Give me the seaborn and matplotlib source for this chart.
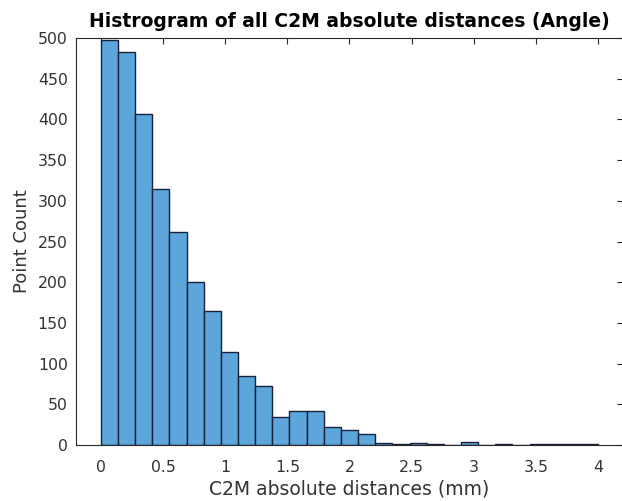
import numpy as np
import pandas as pd
import matplotlib
matplotlib.use("Agg")
import matplotlib.pyplot as plt
import seaborn as sns

# Histogram bins (mm) and counts per bin
bin_start = 0.0
bin_end = 4.0
n_bins = 29
counts = [497, 483, 407, 314, 262, 200, 165, 114, 85, 73,
          34, 42, 42, 22, 18, 13, 3, 1, 3, 1,
          0, 4, 0, 1, 0, 1, 1, 1, 1]

x_ticks = [0, 0.5, 1, 1.5, 2, 2.5, 3, 3.5, 4]
x_tick_labels = ["0", "0.5", "1", "1.5", "2", "2.5", "3", "3.5", "4"]
y_ticks = list(range(0, 501, 50))

title = "Histrogram of all C2M absolute distances (Angle)"
x_label = "C2M absolute distances (mm)"
y_label = "Point Count"

edges = np.linspace(bin_start, bin_end, n_bins + 1)
centers = (edges[:-1] + edges[1:]) / 2
df = pd.DataFrame({"distance": centers, "count": counts})

sns.set_style("white")
plt.rcParams["font.family"] = ["DejaVu Sans"]

fig = plt.figure(figsize=(6.22, 5.01), dpi=100)
ax = fig.add_axes([76 / 622, 56 / 501, 547 / 622, 407 / 501])

sns.histplot(data=df, x="distance", weights="count", bins=list(edges),
             color="#5DA6DC", alpha=1.0, ax=ax,
             edgecolor="#17223a", linewidth=1.0)

ax.set_xlim(-0.2, 4.2)
ax.set_ylim(0, 500)
ax.set_xticks(x_ticks)
ax.set_xticklabels(x_tick_labels)
ax.set_yticks(y_ticks)

axis_color = "#262626"
ax.tick_params(direction="in", length=4, width=0.8, colors=axis_color,
               labelsize=11.3, top=True, right=True, pad=6)
ax.tick_params(axis="x", labelcolor="#333333", pad=11)
ax.tick_params(axis="y", labelcolor="#333333")
for side in ["left", "bottom", "top", "right"]:
    ax.spines[side].set_visible(True)
    ax.spines[side].set_color(axis_color)
    ax.spines[side].set_linewidth(0.8)

ax.set_xlabel(x_label, fontsize=13.5, color="#333333", labelpad=3)
ax.set_ylabel(y_label, fontsize=13, color="#333333", labelpad=5)
ax.set_title(title, fontsize=13.5, fontweight="bold", color="black", pad=8)

fig.savefig("out.png", dpi=100)
